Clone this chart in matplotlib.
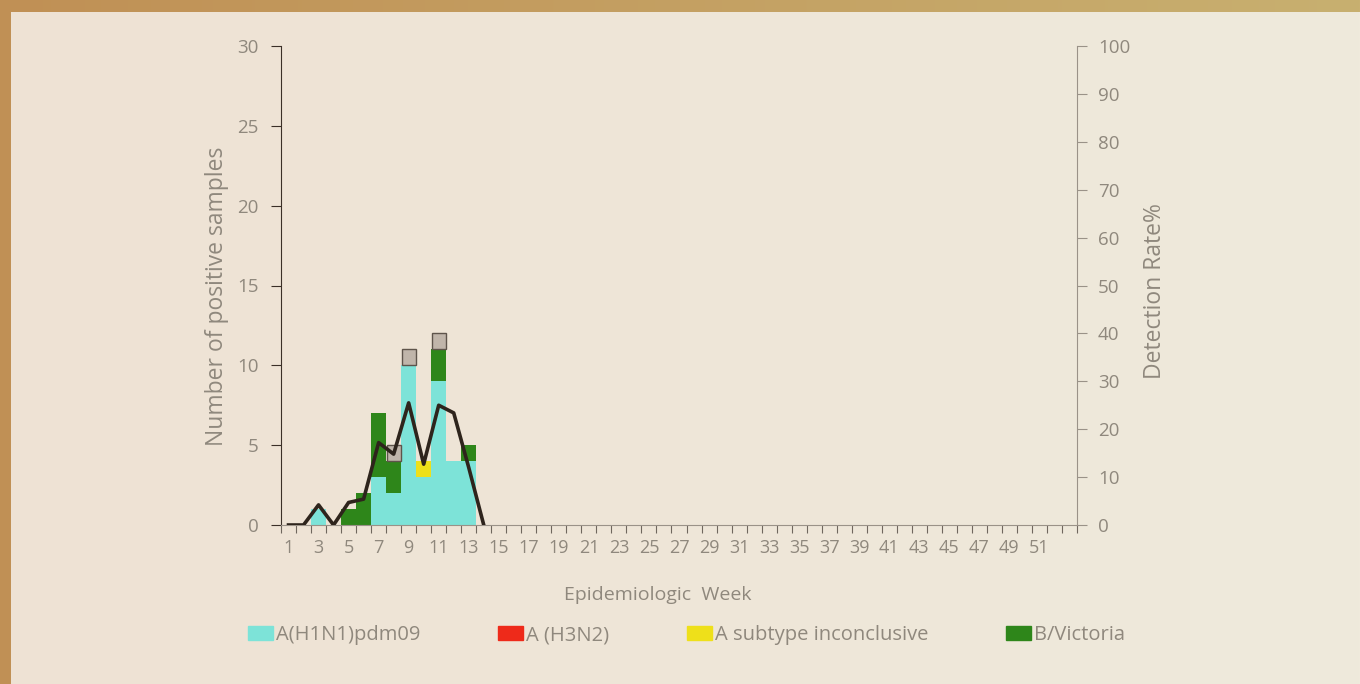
import numpy as np
import matplotlib
matplotlib.use('Agg')
import matplotlib.pyplot as plt
from matplotlib.patches import Patch

plt.rcParams['font.family'] = ['Open Sans', 'DejaVu Sans']

# data
weeks = list(range(1, 54))
h1n1 = [0, 0, 1, 0, 0, 0, 3, 2, 10, 3, 9, 4, 4] + [0] * 40
h3n2 = [0] * 53
inconclusive = [0, 0, 0, 0, 0, 0, 0, 0, 0, 1, 0, 0, 0] + [0] * 40
victoria = [0, 0, 0, 0, 1, 2, 4, 2, 0, 0, 2, 0, 1] + [0] * 40
undetermined = [0, 0, 0, 0, 0, 0, 0, 1, 1, 0, 1, 0, 0] + [0] * 40
rate_weeks = list(range(1, 15))
rate = [0, 0, 4.2, 0, 4.7, 5.4, 17.2, 14.8, 25.5, 12.7, 25.0, 23.4, 12.0, 0]
week_labels = [str(w) for w in range(1, 52, 2)]

c_h1n1 = '#7de3d8'
c_h3n2 = '#ee2a1a'
c_inc = '#eee01a'
c_vic = '#2e861a'
c_und = '#c0b5aa'
txt = '#8f887d'

fig = plt.figure(figsize=(13.6, 6.84), dpi=100)

# background: tan frame on top/left, cream gradient inside
bg = fig.add_axes([0, 0, 1, 1])
H, W = 684, 1360
xx = np.linspace(0, 1, W)
img = np.zeros((H, W, 3))
c0 = np.array([0xee, 0xe2, 0xd4]) / 255
c1 = np.array([0xef, 0xea, 0xdc]) / 255
img[:] = c0 + (c1 - c0) * xx[None, :, None]
t0 = np.array([0xc0, 0x90, 0x55]) / 255
t1 = np.array([0xc8, 0xb0, 0x70]) / 255
img[:12, :] = t0 + (t1 - t0) * xx[:, None]
img[:, :11] = t0
bg.imshow(img, aspect='auto', extent=[0, 1, 0, 1])
bg.axis('off')

ax = fig.add_axes([281 / 1360, 1 - 525 / 684, 796 / 1360, 479 / 684])
ax.patch.set_alpha(0)
b = np.zeros(53)
for vals, col in [(h1n1, c_h1n1), (h3n2, c_h3n2), (inconclusive, c_inc), (victoria, c_vic)]:
    ax.bar(weeks, vals, width=1.0, bottom=b, color=col, linewidth=0)
    b = b + np.array(vals)
edges = ['#5e544b' if v > 0 else 'none' for v in undetermined]
ax.bar(weeks, undetermined, width=0.95, bottom=b, color=c_und, edgecolor=edges, linewidth=1)

ax.set_xlim(0.5, 53.5)
ax.set_ylim(0, 30)
ax.set_yticks(range(0, 31, 5))
ax.set_xticks(np.arange(0.5, 54, 1))
ax.set_xticklabels([])
ax.set_xticks(range(1, 52, 2), minor=True)
ax.set_xticklabels(week_labels, minor=True)
ax.tick_params(axis='x', which='major', length=6, color='#6f675e', direction='out')
ax.tick_params(axis='x', which='minor', length=0, pad=10, labelsize=13, labelcolor=txt)
ax.tick_params(axis='y', length=7, color='#3b3028', labelsize=13.5, labelcolor=txt, pad=9)
for s in ['top', 'right']:
    ax.spines[s].set_visible(False)
ax.spines['left'].set_color('#3b3028')
ax.spines['bottom'].set_color('#9a9288')
ax.set_ylabel('Number of positive samples', fontsize=16.5, color=txt, labelpad=6)
ax.yaxis.label.set_y(0.478)

ax2 = ax.twinx()
ax2.patch.set_alpha(0)
ax2.plot(rate_weeks, rate, color='#2e241c', linewidth=2.6)
ax2.set_ylim(0, 100)
ax2.set_yticks(range(0, 101, 10))
ax2.tick_params(axis='y', length=7, color='#9a9288', labelsize=13.5, labelcolor=txt, pad=8)
for s in ['top', 'left', 'bottom']:
    ax2.spines[s].set_visible(False)
ax2.spines['right'].set_color('#9a9288')
ax2.set_ylabel('Detection Rate%', fontsize=16.5, color=txt, labelpad=9)
ax2.yaxis.label.set_y(0.488)

fig.text(658 / 1360, 1 - 595 / 684, 'Epidemiologic  Week', ha='center', va='center',
         fontsize=14, color=txt)

handles = [Patch(color=c_h1n1), Patch(color=c_h3n2), Patch(color=c_inc), Patch(color=c_vic)]
labels = ['A(H1N1)pdm09', 'A (H3N2)', 'A subtype inconclusive', 'B/Victoria']
leg = fig.legend(handles, labels, loc='center left', bbox_to_anchor=(230 / 1360, 1 - 635 / 684),
                 ncol=4, frameon=False, fontsize=14.5, handlelength=1.24, handleheight=0.75,
                 handletextpad=0.15, columnspacing=3.85, labelcolor=txt)

fig.savefig('out.png', dpi=100)
